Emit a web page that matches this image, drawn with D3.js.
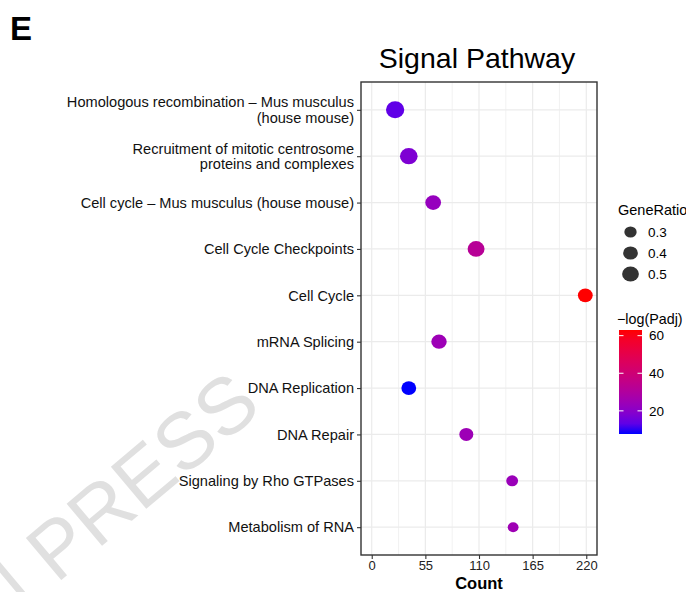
<!DOCTYPE html>
<html>
<head>
<meta charset="utf-8">
<script src="https://cdn.jsdelivr.net/npm/d3@7"></script>
<style>
  body { margin: 0; background: #fff; }
  svg text { font-family: "Liberation Sans", Arial, Helvetica, sans-serif; }
</style>
</head>
<body>
<div class="chart"></div>
<script>
// pathways top to bottom
const pathways = [
  'Homologous recombination – Mus musculus\n(house mouse)',
  'Recruitment of mitotic centrosome\nproteins and complexes',
  'Cell cycle – Mus musculus (house mouse)',
  'Cell Cycle Checkpoints',
  'Cell Cycle',
  'mRNA Splicing',
  'DNA Replication',
  'DNA Repair',
  'Signaling by Rho GTPases',
  'Metabolism of RNA'
]
const counts = [24, 38, 63, 107, 219, 69, 38, 97, 144, 145]
const geneRatios = [0.62, 0.58, 0.48, 0.54, 0.43, 0.46, 0.43, 0.39, 0.30, 0.26]
const negLogPadj = [13.2, 17.7, 22.6, 32, 63, 24.3, 7.7, 24.3, 23.7, 24.8]

const xTicks = [0, 55, 110, 165, 220]
const xMinorTicks = [27.5, 82.5, 137.5, 192.5]
const sizeBreaks = [0.3, 0.4, 0.5]
const colorBreaks = [20, 40, 60]

const width = 686, height = 592
const panel = {left: 361, right: 597, top: 82, bottom: 555}

const svg = d3.select('.chart').append('svg')
    .attr('width', width)
    .attr('height', height)

// watermark
svg.append('text')
    .attr('transform', 'translate(264,410) rotate(-40)')
    .attr('text-anchor', 'end')
    .attr('font-size', 80)
    .attr('fill', '#e0e0e0')
    .text('ARTICLE IN PRESS')

var x = d3.scaleLinear()
    .domain([-11, 231])
    .range([panel.left, panel.right])
var y = d3.scalePoint()
    .domain(pathways)
    .range([panel.top, panel.bottom])
    .padding(0.6)

// area of point grows linearly with GeneRatio
var area = d3.scaleLinear().domain([0.3, 0.5]).range([121, 225])
var radius = g => Math.sqrt(area(g)) / 2
var color = d3.scaleLinear()
    .domain(d3.extent(negLogPadj))
    .range(['blue', 'red'])
    .interpolate(d3.interpolateLab)

// grid
var grid = svg.append('g')
grid.selectAll('.minor')
  .data(xMinorTicks)
  .enter().append('line')
  .attr('x1', d => x(d)).attr('x2', d => x(d))
  .attr('y1', panel.top).attr('y2', panel.bottom)
  .attr('stroke', '#ededed').attr('stroke-width', 0.7)
grid.selectAll('.xmajor')
  .data(xTicks)
  .enter().append('line')
  .attr('x1', d => x(d)).attr('x2', d => x(d))
  .attr('y1', panel.top).attr('y2', panel.bottom)
  .attr('stroke', '#ebebeb').attr('stroke-width', 1.2)
grid.selectAll('.ymajor')
  .data(pathways)
  .enter().append('line')
  .attr('x1', panel.left).attr('x2', panel.right)
  .attr('y1', d => y(d)).attr('y2', d => y(d))
  .attr('stroke', '#ebebeb').attr('stroke-width', 1.2)

const data = pathways.map((p, i) => ({
  pathway: p, count: counts[i], ratio: geneRatios[i], padj: negLogPadj[i]
}))

svg.selectAll('.dot')
  .data(data)
  .enter().append('ellipse')
  .attr('class', 'dot')
  .attr('cx', d => x(d.count))
  .attr('cy', d => y(d.pathway))
  .attr('rx', d => radius(d.ratio) * 1.08)
  .attr('ry', d => radius(d.ratio))
  .attr('fill', d => color(d.padj))

// panel border
svg.append('rect')
  .attr('x', panel.left).attr('y', panel.top)
  .attr('width', panel.right - panel.left)
  .attr('height', panel.bottom - panel.top)
  .attr('fill', 'none')
  .attr('stroke', '#333').attr('stroke-width', 1.4)

// axes
var xAxis = svg.append('g')
  .attr('transform', 'translate(0,' + panel.bottom + ')')
  .call(d3.axisBottom(x).tickValues(xTicks).tickSize(4).tickPadding(2))
xAxis.select('.domain').remove()
xAxis.selectAll('line').attr('stroke', '#333').attr('stroke-width', 1.1)
xAxis.selectAll('text')
  .attr('font-size', 13).attr('fill', '#222')
  .style('font-family', '"Liberation Sans", Arial, sans-serif')

var yAxis = svg.append('g')
  .attr('transform', 'translate(' + panel.left + ',0)')
  .call(d3.axisLeft(y).tickSize(4).tickPadding(3))
yAxis.select('.domain').remove()
yAxis.selectAll('line').attr('stroke', '#333').attr('stroke-width', 1.1)
yAxis.selectAll('text')
  .attr('font-size', 14.6).attr('fill', '#111')
  .style('font-family', '"Liberation Sans", Arial, sans-serif')
  .each(function(d) {
    var lines = d.split('\n')
    if (lines.length < 2) return
    var t = d3.select(this).text(null).attr('dy', null)
    lines.forEach((l, i) => {
      t.append('tspan')
        .attr('x', -7)
        .attr('dy', i === 0 ? '-0.2em' : '1.04em')
        .text(l)
    })
  })

// titles
svg.append('text')
  .attr('x', 10).attr('y', 40)
  .attr('font-size', 33).attr('font-weight', 'bold')
  .text('E')
svg.append('text')
  .attr('x', (panel.left + panel.right) / 2 - 2).attr('y', 68)
  .attr('text-anchor', 'middle')
  .attr('font-size', 28.5)
  .text('Signal Pathway')
svg.append('text')
  .attr('x', (panel.left + panel.right) / 2).attr('y', 589)
  .attr('text-anchor', 'middle')
  .attr('font-size', 16.5).attr('font-weight', 'bold')
  .text('Count')

// size legend
var sizeLegend = svg.append('g')
sizeLegend.append('text')
  .attr('x', 618).attr('y', 215)
  .attr('font-size', 14.5)
  .text('GeneRatio')
var sizeY = d3.scalePoint().domain(sizeBreaks).range([232, 274])
sizeLegend.selectAll('ellipse')
  .data(sizeBreaks)
  .enter().append('ellipse')
  .attr('cx', 630.5)
  .attr('cy', d => sizeY(d))
  .attr('rx', d => radius(d) * 1.12)
  .attr('ry', d => radius(d))
  .attr('fill', '#333')
sizeLegend.selectAll('.lab')
  .data(sizeBreaks)
  .enter().append('text')
  .attr('x', 648)
  .attr('y', d => sizeY(d))
  .attr('dy', '0.35em')
  .attr('font-size', 13.5)
  .text(d => d.toFixed(1))

// colour legend
var barTop = 330, barBottom = 434, barLeft = 619, barW = 23
svg.append('text')
  .attr('x', 617).attr('y', 324)
  .attr('font-size', 14.3)
  .text('−log(Padj)')
var defs = svg.append('defs')
var grad = defs.append('linearGradient')
  .attr('id', 'padjGrad')
  .attr('x1', 0).attr('y1', 1).attr('x2', 0).attr('y2', 0)
d3.range(0, 1.0001, 0.1).forEach(t => {
  var v = color.domain()[0] + t * (color.domain()[1] - color.domain()[0])
  grad.append('stop').attr('offset', t).attr('stop-color', color(v))
})
svg.append('rect')
  .attr('x', barLeft).attr('y', barTop)
  .attr('width', barW).attr('height', barBottom - barTop)
  .attr('fill', 'url(#padjGrad)')
var barY = d3.scaleLinear()
  .domain(color.domain())
  .range([barBottom, barTop])
colorBreaks.forEach(b => {
  svg.append('line')
    .attr('x1', barLeft).attr('x2', barLeft + 4.5)
    .attr('y1', barY(b)).attr('y2', barY(b))
    .attr('stroke', '#fff').attr('stroke-width', 1)
  svg.append('line')
    .attr('x1', barLeft + barW - 4.5).attr('x2', barLeft + barW)
    .attr('y1', barY(b)).attr('y2', barY(b))
    .attr('stroke', '#fff').attr('stroke-width', 1)
  svg.append('text')
    .attr('x', 649).attr('y', barY(b))
    .attr('dy', '0.35em')
    .attr('font-size', 13.5)
    .text(b)
})
</script>
</body>
</html>
